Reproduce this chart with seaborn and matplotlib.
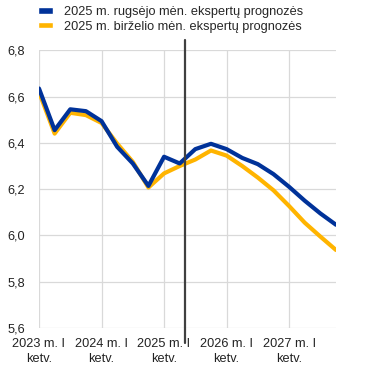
import matplotlib
matplotlib.use("Agg")
import matplotlib.pyplot as plt
import seaborn as sns
import pandas as pd
from matplotlib.patches import Patch

quarters = list(range(20))
tick_labels = ["2023 m. I\nketv.", "2024 m. I\nketv.", "2025 m. I\nketv.",
               "2026 m. I\nketv.", "2027 m. I\nketv."]
series_names = ["2025 m. rugsėjo mėn. ekspertų prognozės",
                "2025 m. birželio mėn. ekspertų prognozės"]
september = [6.635, 6.455, 6.545, 6.537, 6.494, 6.383, 6.311, 6.214, 6.340, 6.311,
             6.373, 6.396, 6.373, 6.335, 6.308, 6.265, 6.210, 6.150, 6.095, 6.046]
june = [6.620, 6.440, 6.530, 6.520, 6.486, 6.397, 6.318, 6.207, 6.268, 6.300,
        6.328, 6.367, 6.345, 6.300, 6.250, 6.195, 6.127, 6.055, 5.995, 5.937]
colors = ["#003299", "#FFB400"]

df = pd.DataFrame({
    "q": quarters * 2,
    "v": september + june,
    "s": [series_names[0]] * 20 + [series_names[1]] * 20,
})

sns.set_style("white")
plt.rcParams["font.family"] = ["Liberation Sans", "DejaVu Sans"]

fig = plt.figure(figsize=(3.74, 3.73), dpi=100)
ax = fig.add_axes([39 / 374, 1 - 328 / 373, (336 - 39) / 374, (328 - 50.3) / 373])

sns.lineplot(data=df, x="q", y="v", hue="s", hue_order=[series_names[1], series_names[0]],
             palette={series_names[0]: colors[0], series_names[1]: colors[1]},
             linewidth=3, ax=ax, legend=False)

ax.set_xlim(0, 19)
ax.set_ylim(5.6, 6.8)
ax.set_xticks([0, 4, 8, 12, 16])
ax.set_xticklabels(tick_labels, linespacing=1.35)
yt = [5.6, 5.8, 6.0, 6.2, 6.4, 6.6, 6.8]
ax.set_yticks(yt)
ax.set_yticklabels([f"{v:.1f}".replace(".", ",") for v in yt])
ax.tick_params(axis="both", length=0, labelsize=9.2, colors="#222222")
ax.tick_params(axis="y", pad=10)
ax.tick_params(axis="x", pad=7)
ax.grid(True, color="#d9d9d9", linewidth=0.9)
for s in ax.spines.values():
    s.set_visible(False)
ax.set_xlabel("")
ax.set_ylabel("")

ax.axvline(9.35, ymin=-0.055, ymax=1.036, color="#404040", linewidth=1.6, clip_on=False, zorder=5)

handles = [Patch(facecolor=colors[0]), Patch(facecolor=colors[1])]
fig.legend(handles, series_names, loc="upper left", bbox_to_anchor=(30 / 374, 1.004),
           frameon=False, fontsize=9.2, handlelength=1.2, handleheight=0.4,
           handletextpad=0.9, labelspacing=0.2, borderaxespad=0.2)

fig.savefig("out.png", dpi=100)
